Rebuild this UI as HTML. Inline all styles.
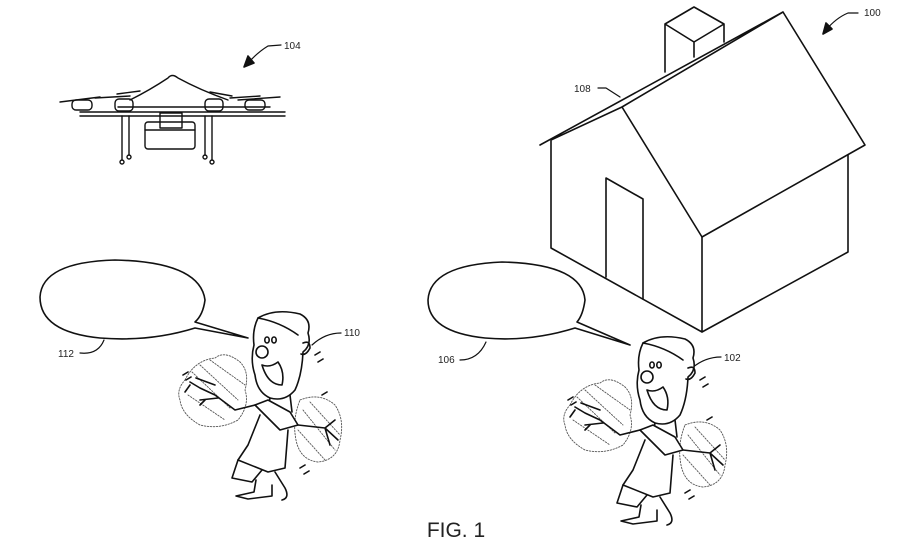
<!DOCTYPE html>
<html><head><style>body{margin:0;background:#fff}svg{display:block}text{font-family:"Liberation Sans",sans-serif;fill:#222}</style></head><body>
<svg width="918" height="554" viewBox="0 0 918 554" fill="none" stroke="#111" stroke-width="1.6" stroke-linejoin="round" stroke-linecap="round">
<defs>
<g id="person">
<g stroke-width="0.9" stroke-dasharray="1.5 1.5" stroke="#555">
<path d="M185 380 Q195 360 215 358 Q225 350 240 362 Q250 372 245 390 Q250 405 238 420 Q220 430 200 425 Q182 415 180 400 Q176 390 185 380 Z"/>
<path d="M192 372 L230 408 M200 365 L238 400 M188 395 L225 420 M210 360 L245 385"/>
<path d="M300 400 Q320 392 335 405 Q345 420 340 440 Q338 460 318 462 Q300 460 296 440 Q292 420 300 400 Z"/>
<path d="M303 410 L335 450 M310 402 L340 435 M298 430 L325 460"/>
</g>
<path d="M258 318 Q275 308 300 314 Q312 320 308 333 Q312 345 303 352 Q302 375 295 390 Q285 402 270 398 Q257 392 255 375 Q250 360 254 345 Q252 330 258 318 Z" fill="#fff"/>
<path d="M258 318 Q280 322 298 335"/>
<circle cx="262" cy="352" r="6" fill="#fff"/>
<ellipse cx="267" cy="340" rx="2.2" ry="3"/><ellipse cx="274" cy="340" rx="2.2" ry="3"/>
<path d="M262 365 Q268 385 282 385 Q285 372 278 362 Q270 368 262 365 Z"/>
<path d="M303 343 Q310 340 310 348 Q306 356 301 354"/>
<path d="M270 398 L268 410 M290 395 L292 412"/>
<path d="M255 405 L268 400 L290 412 L298 425 L280 430 L270 420 L255 405 Z" fill="#fff"/>
<path d="M255 405 L235 410 L215 395 L200 388 L190 382 M196 378 L215 385 M190 385 L185 392 M218 398 L200 400"/>
<path d="M298 425 L325 428 L335 420 M325 428 L338 440 M325 428 L330 445"/>
<path d="M260 415 L248 445 L238 460 L268 472 L285 468 L288 430"/>
<path d="M238 460 L232 478 L252 482 L262 470"/>
<path d="M256 480 L254 492 L236 496 L248 499 L272 496 L272 485 M275 472 L285 488 Q290 498 282 500"/>
<path d="M183 375 L188 372 M186 380 L191 377 M200 405 L205 400 M315 355 L320 352 M318 362 L323 359 M322 395 L327 392 M300 468 L305 465 M304 474 L309 471"/>
</g>
</defs>
<!-- drone -->
<g stroke-width="1.4">
<path d="M130 100 Q150 90 168 78 Q172 73 178 78 Q200 90 228 100"/>
<path d="M118 107 H270 M80 112 H285 M80 116 H285"/>
<path d="M60 102 L100 97 M95 98 L130 96 M117 94 L140 91"/>
<path d="M210 92 L232 96 M230 98 L260 96 M238 100 L280 97"/>
<rect x="72" y="100" width="20" height="10" rx="4"/><rect x="115" y="99" width="18" height="12" rx="4"/>
<rect x="205" y="99" width="18" height="12" rx="4"/><rect x="245" y="100" width="20" height="10" rx="4"/>
<path d="M122 116 V160 M129 116 V155 M205 116 V155 M212 116 V160"/>
<circle cx="122" cy="162" r="2"/><circle cx="129" cy="157" r="2"/><circle cx="205" cy="157" r="2"/><circle cx="212" cy="162" r="2"/>
<rect x="145" y="122" width="50" height="27" rx="3"/><rect x="160" y="113" width="22" height="15"/>
<path d="M145 130 H195"/>
</g>
<text x="284" y="49" font-size="10" stroke="none">104</text>
<path d="M281 45 L268 46 Q258 52 248 63" stroke-width="1.2"/><path d="M244 67 L248 56 L254 63 Z" fill="#111"/>
<!-- house -->
<path d="M665 72 V24 L694 7 L724 24 V42 M665 24 L694 42 L724 24 M694 42 V57"/>
<path d="M540 145 L783 12 L865 145 L702 237 L622 107 L551 140 M622 107 L783 12"/>
<path d="M551 141 V248 L702 332 V237 M702 332 L848 252 V155"/>
<path d="M606 277 V178 L643 199 V299"/>
<text x="864" y="16" font-size="10" stroke="none">100</text>
<path d="M858 13 H848 Q836 18 826 30" stroke-width="1.2"/><path d="M823 34 L826 23 L832 29 Z" fill="#111"/>
<text x="574" y="92" font-size="10" stroke="none">108</text>
<path d="M598 88 H606 L620 97" stroke-width="1.2"/>
<!-- bubbles -->
<path d="M195 328 Q150 342 100 338 Q40 332 40 297 Q42 262 115 260 Q200 262 205 300 Q203 315 195 322 L248 338 Z"/>
<path d="M575 328 Q530 342 485 338 Q428 332 428 300 Q430 265 502 262 Q582 264 585 300 Q583 315 577 322 L630 345 Z"/>
<text x="58" y="357" font-size="10" stroke="none">112</text>
<path d="M80 353 Q98 355 104 340" stroke-width="1.2"/>
<text x="438" y="363" font-size="10" stroke="none">106</text>
<path d="M460 360 Q478 360 486 342" stroke-width="1.2"/>
<text x="344" y="336" font-size="10" stroke="none">110</text>
<path d="M341 333 Q325 333 312 345" stroke-width="1.2"/>
<text x="724" y="361" font-size="10" stroke="none">102</text>
<path d="M721 357 Q705 357 692 368" stroke-width="1.2"/>
<use href="#person"/>
<use href="#person" transform="translate(385,25)"/>
<text x="456" y="537" font-size="21" stroke="none" text-anchor="middle">FIG. 1</text>
</svg>
</body></html>
